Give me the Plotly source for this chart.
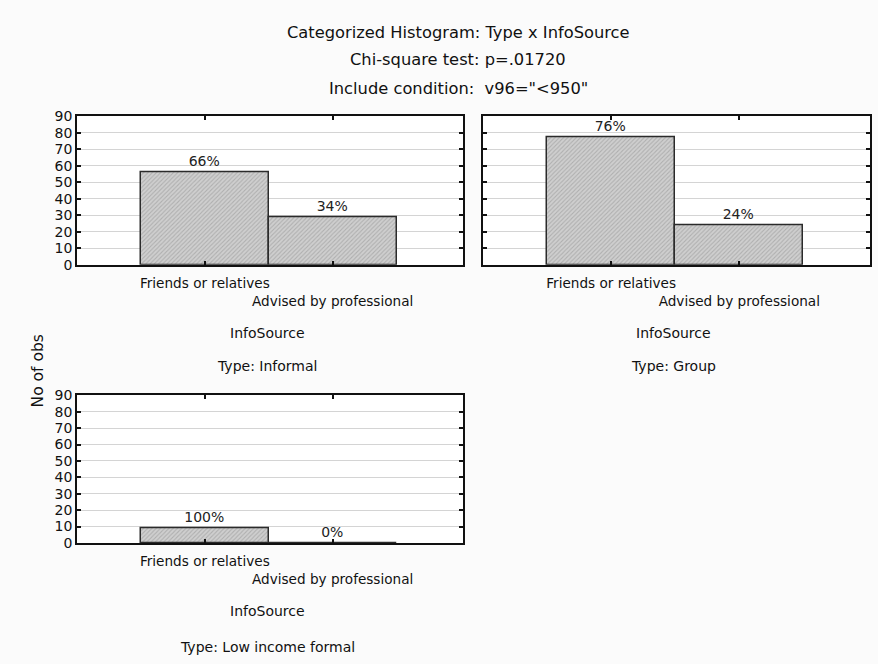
import plotly.graph_objects as go

# Counts of observations per information source, one panel per respondent type
categories = ["Friends or relatives", "Advised by professional"]
informal_counts = [56, 29]
group_counts = [77, 24]
low_income_counts = [9, 0]

panel_titles = ["Type: Informal", "Type: Group", "Type: Low income formal"]
y_ticks = [0, 10, 20, 30, 40, 50, 60, 70, 80, 90]

W, H = 878, 664
FONT = "DejaVu Sans"

# vertical placement calibration of the page (offset, scale)
Y_OFF, Y_SCALE = 6.4, 0.979


def px_x(p):
    return p / W


def px_y(p):
    return 1 - ((p - Y_OFF) / Y_SCALE) / H


# plot-area boxes in pixels: (left, right, top, bottom)
boxes = [(77, 463, 115, 264), (483, 870, 115, 264), (77, 463, 395, 543)]
series = [informal_counts, group_counts, low_income_counts]

fig = go.Figure()

for i, (counts, box) in enumerate(zip(series, boxes)):
    n = i + 1
    total = sum(counts)
    pct = [round(100 * c / total) for c in counts]
    xa = "x" if n == 1 else f"x{n}"
    ya = "y" if n == 1 else f"y{n}"
    fig.add_trace(go.Bar(
        x=[0, 1], y=counts, xaxis=xa, yaxis=ya, width=1,
        marker=dict(color="#c4c4c4",
                    line=dict(color="#2b2b2b", width=1.5),
                    pattern=dict(shape="/", size=3, solidity=0.35,
                                 fgcolor="#8e8e8e", bgcolor="#cfcfcf")),
        text=[f"{p}%" for p in pct], textposition="outside",
        textfont=dict(family=FONT, size=14, color="#222"),
        cliponaxis=False, constraintext="none", showlegend=False,
        hoverinfo="skip",
    ))
    left, right, top, bottom = box
    axis_common = dict(showline=True, linecolor="#111", linewidth=1.5,
                       mirror="ticks", ticks="inside", ticklen=4,
                       tickcolor="#111", tickwidth=1.5)
    fig.layout[f"xaxis{'' if n == 1 else n}"] = dict(
        domain=[px_x(left), px_x(right)], anchor=ya, range=[-1, 2.02],
        tickvals=[0, 1], tickangle=0, ticklabelstandoff=5,
        ticktext=[categories[0], "<br>" + categories[1]],
        tickfont=dict(family=FONT, size=13.6, color="#111"),
        showgrid=False, zeroline=False, **axis_common)
    fig.layout[f"yaxis{'' if n == 1 else n}"] = dict(
        domain=[px_y(bottom), px_y(top)], anchor=xa, range=[0, 90],
        tickvals=y_ticks, showticklabels=(n != 2),
        tickfont=dict(family=FONT, size=14, color="#111"),
        showgrid=True, gridcolor="#d4d4d4", gridwidth=1,
        zeroline=False, **axis_common)
    cx = px_x((left + right) / 2 - 3)
    fig.add_annotation(text="InfoSource", x=cx, y=px_y(bottom + 68),
                       xref="paper", yref="paper", showarrow=False,
                       xanchor="center", yanchor="middle",
                       font=dict(family=FONT, size=14, color="#111"))
    fig.add_annotation(text=panel_titles[i], x=cx,
                       y=px_y(bottom + (102 if n < 3 else 104)),
                       xref="paper", yref="paper", showarrow=False,
                       xanchor="center", yanchor="middle",
                       font=dict(family=FONT, size=14, color="#111"))

# figure title lines
for txt, yp in [("Categorized Histogram: Type x InfoSource", 31),
                ("Chi-square test: p=.01720", 58),
                ("Include condition:  v96=\"<950\"", 87)]:
    fig.add_annotation(text=txt, x=px_x(458), y=px_y(yp), xref="paper",
                       yref="paper", showarrow=False,
                       xanchor="center", yanchor="middle",
                       font=dict(family=FONT, size=16.3, color="#111"))

fig.add_annotation(text="No of obs", x=px_x(38), y=px_y(371), xref="paper",
                   yref="paper", showarrow=False, textangle=-90,
                   xanchor="center", yanchor="middle",
                   font=dict(family=FONT, size=15.5, color="#111"))

fig.update_layout(width=W, height=H, margin=dict(l=0, r=0, t=0, b=0),
                  paper_bgcolor="#fbfbfb", plot_bgcolor="#ffffff",
                  bargap=0)

fig.write_html("out.html")
